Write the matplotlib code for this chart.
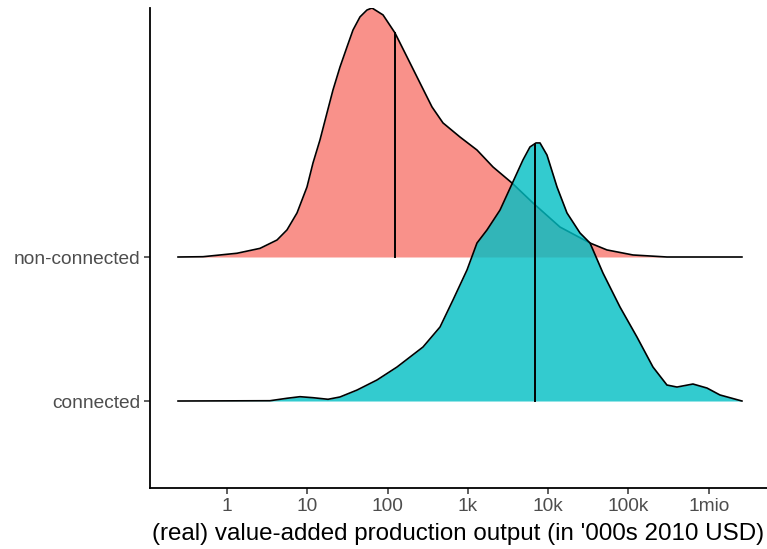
import numpy as np
import matplotlib
matplotlib.use("Agg")
import matplotlib.pyplot as plt

plt.rcParams['font.family'] = ['Liberation Sans', 'DejaVu Sans']

# groups (bottom to top) and their ridge baselines
groups = ["connected", "non-connected"]
colors = {"connected": "#00BFC4", "non-connected": "#F8766D"}

# density curves on log10 scale of output; heights in units of row spacing
nc_logx = [-0.610, -0.299, 0.125, 0.411, 0.623, 0.747, 0.872, 0.996, 1.071,
           1.158, 1.245, 1.320, 1.407, 1.494, 1.569, 1.656, 1.743, 1.806,
           1.943, 2.092, 2.242, 2.404, 2.553, 2.690, 2.902, 3.113, 3.313,
           3.549, 3.811, 4.147, 4.521, 4.732, 5.056, 5.479, 6.413]
nc_dens = [0.0, 0.002, 0.026, 0.060, 0.118, 0.188, 0.306, 0.486, 0.653,
           0.813, 1.000, 1.160, 1.319, 1.458, 1.576, 1.667, 1.715, 1.729,
           1.681, 1.556, 1.389, 1.208, 1.042, 0.931, 0.833, 0.743, 0.625,
           0.514, 0.375, 0.208, 0.097, 0.049, 0.014, 0.0, 0.0]

c_logx = [-0.610, 0.535, 0.747, 0.909, 1.071, 1.258, 1.407, 1.619, 1.868,
          2.117, 2.441, 2.653, 2.814, 2.989, 3.113, 3.238, 3.400, 3.549,
          3.686, 3.773, 3.848, 3.898, 3.985, 4.110, 4.234, 4.396, 4.521,
          4.682, 4.894, 5.106, 5.305, 5.479, 5.604, 5.803, 5.978, 6.139, 6.413]
c_dens = [0.0, 0.002, 0.019, 0.030, 0.023, 0.012, 0.028, 0.076, 0.146,
          0.236, 0.375, 0.514, 0.701, 0.910, 1.097, 1.188, 1.326, 1.507,
          1.674, 1.764, 1.792, 1.792, 1.708, 1.486, 1.306, 1.167, 1.097,
          0.889, 0.653, 0.444, 0.236, 0.111, 0.097, 0.118, 0.090, 0.042, 0.0]

# medians (log10 of output)
medians = {"non-connected": 2.092, "connected": 3.836}

curves = {
    "non-connected": (np.array(nc_logx), np.array(nc_dens)),
    "connected": (np.array(c_logx), np.array(c_dens)),
}

tick_vals = [0, 1, 2, 3, 4, 5, 6]
tick_labels = ["1", "10", "100", "1k", "10k", "100k", "1mio"]

fig = plt.figure(figsize=(7.67, 5.49), dpi=100)
ax = fig.add_axes([150 / 767, 1 - 488 / 549, 1 - 150 / 767, (488 - 8) / 549])

# draw top ridge first so the lower one overlaps it
for i, g in reversed(list(enumerate(groups))):
    base = i + 1
    x, d = curves[g]
    z = 2 + (1 - i) * 2
    ax.fill_between(x, base, base + d, color=colors[g], alpha=0.8, lw=0,
                    zorder=z)
    ax.plot(x, base + d, color="black", lw=1.2, zorder=z + 1,
            solid_joinstyle="round")
    m = medians[g]
    ax.plot([m, m], [base, base + np.interp(m, x, d)], color="black", lw=1.4,
            zorder=z + 1)

ax.set_xlim(-0.959, 6.725)
ax.set_ylim(0.396, 3.729)

ax.set_xticks(tick_vals)
ax.set_xticklabels(tick_labels)
ax.set_yticks([1, 2])
ax.set_yticklabels(groups)

for s in ["top", "right"]:
    ax.spines[s].set_visible(False)
for s in ["left", "bottom"]:
    ax.spines[s].set_linewidth(1.3)

ax.tick_params(axis="both", length=4, width=1.1, color="#333333",
               labelcolor="#4D4D4D", labelsize=13.8, pad=3)
ax.set_xlabel("(real) value-added production output (in '000s 2010 USD)",
              fontsize=17.4, color="black", labelpad=6)

fig.savefig("out.png", dpi=100)
